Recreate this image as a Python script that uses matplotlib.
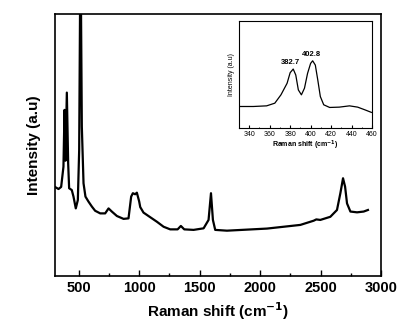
import matplotlib.pyplot as plt
from matplotlib.ticker import MultipleLocator

# main spectrum (arbitrary intensity units)
shift = [300, 333, 355, 374, 383, 391, 402, 413, 421, 443, 457, 476, 493, 504,
         515, 526, 540, 556, 581, 609, 636, 678, 719, 747, 774, 816, 871, 912,
         934, 948, 967, 981, 1000, 1009, 1036, 1077, 1147, 1202, 1257, 1318,
         1345, 1373, 1450, 1533, 1574, 1594, 1610, 1629, 1726, 2057, 2333,
         2443, 2465, 2498, 2581, 2636, 2664, 2686, 2703, 2719, 2747, 2802,
         2857, 2892]
intensity = [34.1, 33.2, 34.0, 41.7, 63.4, 44.0, 70.0, 43.0, 33.5, 32.8, 30.3,
             25.8, 29.0, 48.0, 130.0, 57.0, 35.4, 30.3, 28.4, 26.5, 24.9, 23.9,
             23.9, 25.8, 24.6, 22.9, 21.8, 22.0, 30.3, 31.6, 31.2, 31.8, 28.5,
             26.3, 24.2, 22.9, 20.7, 18.8, 17.8, 17.8, 19.1, 17.8, 17.6, 18.2,
             21.4, 31.6, 21.4, 17.6, 17.3, 18.1, 19.5, 21.1, 21.6, 21.4, 22.6,
             25.2, 31.6, 37.3, 34.1, 27.7, 24.6, 24.3, 24.6, 25.2]

# inset, zoom of the 330-460 region
inset_shift = [331, 344, 357, 365, 371, 377, 380, 383, 385.5, 388, 391, 394,
               397, 400, 402, 404.6, 407, 409.5, 412.8, 418.6, 428, 438, 446,
               453, 459.4]
inset_intensity = [20.1, 20.1, 20.7, 23.2, 31.0, 41.8, 51.7, 55.1, 49.5, 35.6,
                   31.0, 37.2, 51.0, 60.4, 62.8, 58.8, 44.9, 29.4, 21.7, 19.2,
                   19.5, 20.7, 19.5, 17.0, 14.6]
peak_pos = [382.7, 402.8]
peak_lbl = ["382.7", "402.8"]
peak_y = [58, 65]

plt.rcParams["font.family"] = "Liberation Sans"

fig = plt.figure(figsize=(4.15, 3.29), dpi=100)
ax = fig.add_axes([54.5 / 415, 1 - 276 / 329, 326.5 / 415, 262 / 329])
ax.plot(shift, intensity, color="black", lw=1.6)
ax.set_xlim(300, 3000)
ax.set_ylim(0, 100)
ax.set_yticks([])
ax.xaxis.set_major_locator(MultipleLocator(500))
ax.xaxis.set_minor_locator(MultipleLocator(250))
ax.tick_params(axis="x", which="both", direction="in", labelsize=10.5, width=1)
ax.tick_params(axis="x", which="major", length=4)
ax.tick_params(axis="x", which="minor", length=2)
for lbl in ax.get_xticklabels():
    lbl.set_fontweight("bold")
for s in ax.spines.values():
    s.set_linewidth(1.2)
ax.set_xlabel("Raman shift (cm$^{\\mathbf{-1}}$)", fontsize=11, fontweight="bold")
ax.set_ylabel("Intensity (a.u)", fontsize=11, fontweight="bold", labelpad=10)

# inset
ins = fig.add_axes([239 / 415, 1 - 128 / 329, 133 / 415, 107 / 329])
ins.plot(inset_shift, inset_intensity, color="black", lw=0.9)
ins.set_xlim(330, 460)
ins.set_ylim(0, 100)
ins.set_yticks([])
ins.set_xticks([340, 360, 380, 400, 420, 440, 460])
ins.xaxis.set_minor_locator(MultipleLocator(10))
ins.tick_params(axis="x", which="both", direction="in", labelsize=5, pad=2)
ins.tick_params(axis="x", which="major", length=2)
ins.tick_params(axis="x", which="minor", length=1)
ins.set_xlabel("Raman shift (cm$^{\\mathbf{-1}}$)", fontsize=5, fontweight="bold", labelpad=1)
ins.set_ylabel("Intensity (a.u)", fontsize=5, labelpad=3)
for x, y, t in zip(peak_pos, peak_y, peak_lbl):
    ins.text(x - 2, y, t, fontsize=5.5, fontweight="bold", ha="center", va="bottom")

fig.savefig("out.png", dpi=100)
